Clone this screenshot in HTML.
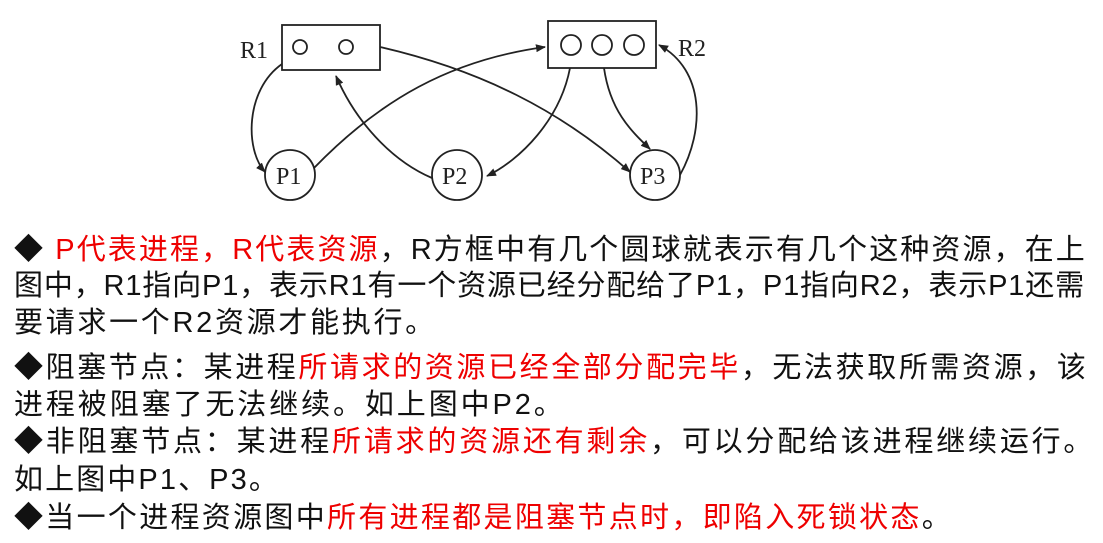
<!DOCTYPE html>
<html><head><meta charset="utf-8"><style>
body{margin:0;width:1103px;height:543px;background:#fff;overflow:hidden;position:relative;font-family:"Liberation Sans","Noto Sans CJK SC",sans-serif;}
.l{position:absolute;left:14px;font-size:29px;line-height:36px;white-space:nowrap;color:#111;letter-spacing:2.8px;}
.r{color:#e00;}
svg{position:absolute;left:0;top:0;}
</style></head><body>
<svg width="1103" height="215" viewBox="0 0 1103 215">
<defs><marker id="a" markerWidth="10" markerHeight="8" refX="9" refY="4" orient="auto" markerUnits="userSpaceOnUse"><path d="M0,0 L10,4 L0,8 Z" fill="#222"/></marker></defs>
<g fill="none" stroke="#222" stroke-width="1.8">
<rect x="282" y="25" width="98" height="45"/>
<circle cx="300" cy="47" r="7"/><circle cx="346" cy="47" r="7"/>
<rect x="548" y="21" width="108" height="47"/>
<circle cx="571" cy="45" r="10"/><circle cx="602" cy="45" r="10"/><circle cx="634" cy="45" r="10"/>
<circle cx="290" cy="175" r="25"/><circle cx="457" cy="175" r="25"/><circle cx="655" cy="175" r="25"/>
<path d="M282 64 C245 90 245 150 265 172" marker-end="url(#a)"/>
<path d="M314 168 C380 100 450 60 545 47" marker-end="url(#a)"/>
<path d="M432 178 C390 160 355 120 336 76" marker-end="url(#a)"/>
<path d="M380 47 C480 70 560 110 630 172" marker-end="url(#a)"/>
<path d="M570 68 C560 120 520 160 487 176" marker-end="url(#a)"/>
<path d="M604 68 C610 110 630 130 650 149" marker-end="url(#a)"/>
<path d="M680 175 C705 130 705 70 659 45" marker-end="url(#a)"/>
</g>
<g font-family="Liberation Serif,serif" font-size="24" fill="#222">
<text x="240" y="58">R1</text><text x="678" y="56">R2</text>
<text x="276" y="184">P1</text><text x="442" y="184">P2</text><text x="640" y="184">P3</text>
</g>
</svg>
<div class="l" style="top:232px;letter-spacing:2.1px">◆ <span class="r">P代表进程，R代表资源</span>，R方框中有几个圆球就表示有几个这种资源，在上</div>
<div class="l" style="top:268px;letter-spacing:0.85px">图中，R1指向P1，表示R1有一个资源已经分配给了P1，P1指向R2，表示P1还需</div>
<div class="l" style="top:305px;letter-spacing:2.7px">要请求一个R2资源才能执行。</div>
<div class="l" style="top:350px;letter-spacing:2.6px">◆阻塞节点：某进程<span class="r">所请求的资源已经全部分配完毕</span>，无法获取所需资源，该</div>
<div class="l" style="top:387px;letter-spacing:2.9px">进程被阻塞了无法继续。如上图中P2。</div>
<div class="l" style="top:424px;letter-spacing:2.8px">◆非阻塞节点：某进程<span class="r">所请求的资源还有剩余</span>，可以分配给该进程继续运行。</div>
<div class="l" style="top:462px;letter-spacing:2.1px">如上图中P1、P3。</div>
<div class="l" style="top:500px;letter-spacing:2.3px">◆当一个进程资源图中<span class="r">所有进程都是阻塞节点时，即陷入死锁状态</span>。</div>
</body></html>
